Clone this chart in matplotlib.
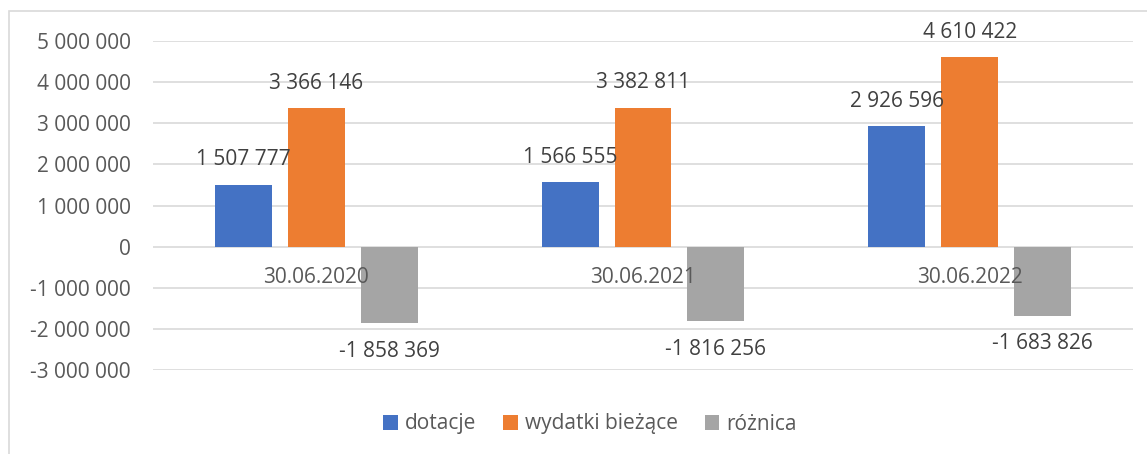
import matplotlib.pyplot as plt
from matplotlib.patches import Rectangle

# dane
daty = ["30.06.2020", "30.06.2021", "30.06.2022"]
dotacje = [1507777, 1566555, 2926596]
wydatki = [3366146, 3382811, 4610422]
roznica = [-1858369, -1816256, -1683826]

serie = ["dotacje", "wydatki bieżące", "różnica"]
kolory = ["#4472C4", "#ED7D31", "#A5A5A5"]


def fmt(v):
    # separator tysięcy jako spacja
    return f"{v:,}".replace(",", " ")


plt.rcParams['font.family'] = ['Open Sans', 'DejaVu Sans']

W, H = 1147, 454
fig = plt.figure(figsize=(W / 100, H / 100), dpi=100)
ax = fig.add_axes([153 / W, 1 - 370 / H, (1133 - 153) / W, (370 - 41) / H])

# ramka wykresu
fig.patches.append(Rectangle((9 / W, -0.05), 1.1, 1 - 11 / H + 0.05,
                             transform=fig.transFigure, fill=False,
                             edgecolor="#d9d9d9", linewidth=1.2, zorder=0))

szer = 0.174
krok = 0.223
wartosci = [dotacje, wydatki, roznica]

for j, (nazwa, vals, kol) in enumerate(zip(serie, wartosci, kolory)):
    xs = [i + (j - 1) * krok for i in range(len(daty))]
    ax.bar(xs, vals, width=szer, color=kol, label=nazwa, zorder=2)
    for x, v in zip(xs, vals):
        off = 25 if v >= 0 else -28
        ax.annotate(fmt(v), (x, v), xytext=(0, off), textcoords="offset pixels",
                    ha="center", va="center", fontsize=15, color="#404040", zorder=4)

# etykiety kategorii pod osią zero
for i, d in enumerate(daty):
    ax.annotate(d, (i, 0), xytext=(0, -31), textcoords="offset pixels",
                ha="center", va="center", fontsize=15, color="#595959", zorder=5)

ax.set_xlim(-0.5, 2.5)
ax.set_ylim(-3000000, 5000000)
ax.set_yticks(range(-3000000, 5000001, 1000000))
ax.set_yticklabels([fmt(t) for t in range(-3000000, 5000001, 1000000)])
ax.set_xticks([])
ax.tick_params(axis="y", length=0, pad=16, labelsize=15, labelcolor="#595959")
ax.grid(axis="y", color="#d9d9d9", linewidth=1.2, zorder=0)
ax.set_axisbelow(True)
for s in ax.spines.values():
    s.set_visible(False)

fig.legend(loc="center", bbox_to_anchor=(590 / W, 1 - 424 / H), ncol=3, frameon=False,
           fontsize=15, labelcolor="#595959", handlelength=0.7, handleheight=0.7,
           handletextpad=0.33, columnspacing=1.3)

fig.savefig("out.png", dpi=100)
